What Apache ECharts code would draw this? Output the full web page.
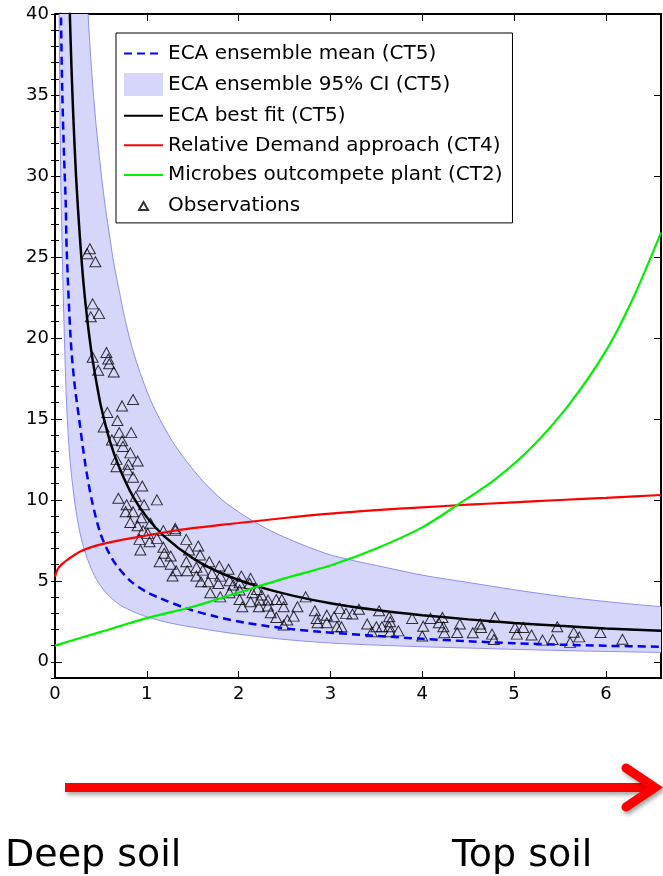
<!DOCTYPE html>
<html><head><meta charset="utf-8">
<script src="https://cdn.jsdelivr.net/npm/echarts@6/dist/echarts.min.js"></script>
<style>html,body{margin:0;padding:0;background:#fff;}#c{width:663px;height:876px;}</style>
</head><body><div id="c"></div>
<script>
// ---- data ----
const xTicks = [0, 1, 2, 3, 4, 5, 6];
const yTicks = [0, 5, 10, 15, 20, 25, 30, 35, 40];

const seriesNames = ['ECA ensemble mean (CT5)', 'ECA ensemble 95% CI (CT5)', 'ECA best fit (CT5)',
  'Relative Demand approach (CT4)', 'Microbes outcompete plant (CT2)', 'Observations'];

const meanCurve = [[0.055,47],[0.065,40],[0.08,35],[0.1,31],[0.117,28.3],[0.127,25.5],[0.17,20],[0.21,17.3],
  [0.265,14.9],[0.33,12.2],[0.4,10],[0.49,8.0],[0.58,6.8],[0.67,5.95],[0.82,5.0],[1.0,4.3],[1.14,3.94],
  [1.43,3.3],[1.76,2.78],[2.09,2.4],[2.45,2.1],[2.89,1.85],[3.5,1.6],[4.0,1.42],[4.5,1.27],[5.0,1.15],
  [5.5,1.06],[6.0,0.99],[6.6,0.93]];

const ciUpper = [[0.3,48],[0.33,43.5],[0.36,40],[0.4,36.4],[0.45,33],[0.5,30.3],[0.55,28],[0.6,26.1],[0.64,24.6],
  [0.7,22.9],[0.76,21.2],[0.84,19.4],[0.93,17.8],[1.03,16.3],[1.14,15.0],[1.28,13.6],[1.43,12.4],[1.62,11.1],
  [1.82,10.0],[2.0,9.25],[2.2,8.55],[2.4,7.95],[2.6,7.45],[2.8,7.0],[3.0,6.6],[3.25,6.25],[3.5,5.95],[4.0,5.35],
  [4.5,4.9],[5.0,4.45],[5.5,4.05],[6.0,3.72],[6.6,3.4]];

const ciLower = [[0.035,50],[0.045,40],[0.06,31],[0.08,25],[0.1,20.5],[0.127,15.8],[0.16,12.7],[0.207,10.2],
  [0.25,8.6],[0.3,7.3],[0.37,6.1],[0.45,5.1],[0.55,4.3],[0.63,3.85],[0.71,3.5],[0.85,3.1],[1.0,2.78],
  [1.25,2.4],[1.58,2.06],[1.9,1.78],[2.3,1.5],[2.6,1.33],[3.0,1.16],[3.5,1.03],[4.0,0.93],[4.5,0.85],
  [5.0,0.77],[5.5,0.7],[6.0,0.64],[6.6,0.58]];

const bestFit = [[0.14,44.9],[0.16,40.3],[0.18,36.6],[0.2,33.6],[0.23,29.9],[0.27,26.3],[0.31,23.4],[0.35,21.2],
  [0.4,19.0],[0.45,17.3],[0.5,15.8],[0.6,13.6],[0.7,12.0],[0.85,10.2],[1.0,8.93],[1.2,7.7],[1.5,6.4],
  [1.8,5.5],[2.2,4.67],[2.6,4.07],[3.0,3.62],[3.5,3.2],[4.0,2.88],[4.5,2.62],[5.0,2.4],[5.5,2.22],
  [6.0,2.06],[6.6,1.91]];

const relDemand = [[0,5.25],[0.02,5.6],[0.04,5.82],[0.08,6.05],[0.13,6.28],[0.2,6.55],[0.27,6.8],[0.38,7.05],
  [0.5,7.25],[0.7,7.5],[0.85,7.65],[1.0,7.8],[1.2,8.0],[1.5,8.25],[1.8,8.45],[2.0,8.57],[2.5,8.88],
  [3.0,9.15],[3.5,9.36],[4.0,9.54],[4.5,9.7],[5.0,9.85],[5.5,9.99],[6.0,10.12],[6.6,10.3]];

const microbes = [[0,1.0],[0.5,1.85],[1.0,2.7],[1.5,3.4],[2.0,4.28],[2.5,5.15],[3.0,5.95],[3.5,7.0],
  [4.0,8.3],[4.4,9.75],[4.8,11.3],[5.2,13.3],[5.6,15.9],[6.0,19.2],[6.3,22.5],[6.6,26.5]];

const observations = [
  [0.35,25.2],[0.38,25.5],[0.44,24.7],[0.41,22.1],[0.39,21.3],[0.48,21.5],[0.41,18.8],[0.56,19.1],
  [0.58,18.7],[0.59,18.4],[0.47,18.0],[0.64,17.9],
  [0.85,16.2],[0.73,15.8],[0.57,15.4],[0.68,14.9],[0.53,14.5],[0.70,14.15],[0.83,14.15],[0.62,13.7],
  [0.73,13.65],[0.74,13.3],[0.82,12.9],[0.67,12.5],[0.90,12.4],[0.80,12.2],[0.67,12.05],[0.79,11.85],
  [0.85,11.4],[0.95,10.85],[0.69,10.1],[0.88,10.2],[1.11,10.0],[0.78,9.7],[0.97,9.7],[0.77,9.27],[0.85,9.27],
  [0.94,8.9],[0.82,8.6],[0.90,8.4],[1.04,8.55],[0.96,8.1],[1.01,7.93],[1.18,8.1],[1.31,8.24],[1.31,8.12],
  [0.92,7.56],[1.03,7.41],[1.11,7.62],[1.43,7.56],[0.93,6.9],[1.18,7.07],[1.19,6.7],[1.46,6.9],[1.56,7.15],
  [1.14,6.18],[1.26,6.53],[1.43,6.18],[1.26,6.03],[1.32,5.62],[1.28,5.3],[1.44,5.62],[1.54,5.83],[1.54,5.3],
  [1.58,6.6],[1.68,6.18],[1.79,5.91],[1.89,5.71],[1.61,5.66],[1.71,5.46],[1.80,5.29],[2.03,5.29],[2.13,5.15],
  [1.59,4.94],[1.67,4.94],[1.78,4.84],[1.90,5.0],[1.94,4.74],[2.01,4.88],[2.12,4.84],[1.69,4.26],[1.80,4.01],
  [1.90,4.26],[2.01,4.43],[2.15,4.26],[2.20,4.47],[2.25,4.12],[2.01,3.85],[2.13,3.71],[2.23,3.81],[2.32,3.81],
  [2.41,3.85],[2.47,3.85],[2.04,3.4],[2.22,3.4],[2.32,3.44],[2.49,3.4],[2.64,3.4],[2.35,3.03],[2.73,4.01],
  [2.41,2.74],[2.60,2.82],[2.53,2.58],[2.49,2.27],[2.83,3.15],[2.85,2.68],[2.86,2.41],[2.96,2.88],[2.96,2.41],
  [3.04,2.78],[3.07,2.16],[3.10,3.30],[3.12,2.16],[3.17,2.99],[3.24,2.95],[3.31,3.24],[3.40,2.33],[3.45,1.85],
  [3.50,2.16],[3.53,3.15],[3.56,2.16],[3.64,2.78],[3.65,2.47],[3.64,2.16],[3.65,1.85],[3.74,1.91],[3.89,2.68],
  [4.00,1.59],[4.01,2.20],[4.09,2.68],[4.18,2.41],[4.22,2.74],[4.23,2.16],[4.24,1.79],[4.38,1.81],[4.41,2.33],
  [4.55,1.79],[4.63,2.33],[4.64,2.12],[4.76,1.71],[4.78,1.38],[4.79,2.74],[5.01,2.12],[5.03,1.71],[5.10,2.12],
  [5.19,1.65],[5.31,1.34],[5.42,1.38],[5.47,2.16],[5.61,1.2],[5.65,1.82],[5.71,1.54],[5.94,1.81],[6.18,1.39]
];

const bottomLabels = ['Deep soil', 'Top soil'];

// ---- chart ----
const FONT = 'DejaVu Sans';
const bandFill = '#d6d6fa';
const bandEdge = '#8f8ff2';
const chart = echarts.init(document.getElementById('c'), null, {renderer: 'canvas', width: 663, height: 876});

const axisBase = {
  type: 'value', splitLine: {show: false},
  axisLine: {show: true, onZero: false, lineStyle: {color: '#000', width: 2}}
};

chart.setOption({
  animation: false,
  backgroundColor: '#fff',
  grid: {left: 55, right: 2, top: 14, bottom: 198, containLabel: false},
  xAxis: [
    Object.assign({}, axisBase, {position: 'bottom', min: 0, max: 6.6,
      axisTick: {show: true, inside: true, length: 7, customValues: xTicks, lineStyle: {color: '#000', width: 1}},
      axisLabel: {show: true, customValues: xTicks, margin: 7, color: '#000', fontFamily: FONT, fontSize: 18}}),
    Object.assign({}, axisBase, {position: 'top', min: 0, max: 6.6,
      axisTick: {show: true, inside: true, length: 7, customValues: xTicks, lineStyle: {color: '#000', width: 1}},
      axisLabel: {show: false}})
  ],
  yAxis: [
    Object.assign({}, axisBase, {position: 'left', min: -1, max: 40,
      axisTick: {show: true, inside: true, length: 7, customValues: yTicks, lineStyle: {color: '#000', width: 1}},
      axisLabel: {show: true, customValues: yTicks, margin: 6, color: '#000', fontFamily: FONT, fontSize: 18}}),
    Object.assign({}, axisBase, {position: 'right', min: -1, max: 40,
      axisTick: {show: true, inside: true, length: 7, customValues: yTicks, lineStyle: {color: '#000', width: 1}},
      axisLabel: {show: false}}),
    {type: 'value', position: 'left', min: -1, max: 40, interval: 1, splitLine: {show: false},
      axisLine: {show: false}, axisLabel: {show: false},
      axisTick: {show: true, inside: true, length: 4, lineStyle: {color: '#000', width: 1}}},
    {type: 'value', position: 'right', min: -1, max: 40, interval: 1, splitLine: {show: false},
      axisLine: {show: false}, axisLabel: {show: false},
      axisTick: {show: true, inside: true, length: 4, lineStyle: {color: '#000', width: 1}}}
  ],
  legend: [
    {
      data: [
        {name: seriesNames[0]},
        {name: seriesNames[1], icon: 'rect', itemStyle: {color: bandFill, borderWidth: 0, opacity: 1}},
        {name: seriesNames[2]}, {name: seriesNames[3]}, {name: seriesNames[4]}
      ],
      orient: 'vertical', left: 116, top: 33, itemWidth: 39, itemHeight: 23, itemGap: 9.6,
      itemStyle: {opacity: 0},
      padding: [10.5, 10, 38, 7], borderColor: '#000', borderWidth: 1, backgroundColor: '#fff',
      selectedMode: false, textStyle: {fontFamily: FONT, fontSize: 20, color: '#000'}
    },
    {
      data: [{name: seriesNames[5]}],
      orient: 'vertical', left: 138, top: 196, itemWidth: 9, itemHeight: 8, padding: 0, z: 6,
      selectedMode: false, textStyle: {fontFamily: FONT, fontSize: 20, color: '#000', padding: [0, 0, 0, 15]}
    }
  ],
  series: [
    {
      name: seriesNames[1], type: 'custom', clip: true, data: [[0, 0]],
      itemStyle: {color: bandFill},
      renderItem: function (params, api) {
        const up = ciUpper.map(p => api.coord(p));
        const lo = ciLower.map(p => api.coord(p));
        return {type: 'group', children: [
          {type: 'polygon', shape: {points: up.concat(lo.slice().reverse())}, style: {fill: bandFill, stroke: null}},
          {type: 'polyline', shape: {points: up, smooth: 0.3}, style: {fill: null, stroke: bandEdge, lineWidth: 1}},
          {type: 'polyline', shape: {points: lo, smooth: 0.3}, style: {fill: null, stroke: bandEdge, lineWidth: 1}}
        ]};
      }
    },
    {name: seriesNames[0], type: 'line', data: meanCurve, symbol: 'none', smooth: 0.3, clip: true,
      lineStyle: {color: '#0000ff', width: 2.5, type: [8, 5]}, itemStyle: {color: '#0000ff'}},
    {name: seriesNames[2], type: 'line', data: bestFit, symbol: 'none', smooth: 0.3, clip: true,
      lineStyle: {color: '#000', width: 2.5}, itemStyle: {color: '#000'}},
    {name: seriesNames[3], type: 'line', data: relDemand, symbol: 'none', smooth: 0.3, clip: true,
      lineStyle: {color: '#ff0000', width: 2.2}, itemStyle: {color: '#ff0000'}},
    {name: seriesNames[4], type: 'line', data: microbes, symbol: 'none', smooth: 0.3, clip: true,
      lineStyle: {color: '#00f000', width: 2.2}, itemStyle: {color: '#00f000'}},
    {name: seriesNames[5], type: 'scatter', data: observations, symbol: 'triangle', symbolSize: [11, 10],
      itemStyle: {color: 'rgba(0,0,0,0)', borderColor: '#000', borderWidth: 1}}
  ],
  graphic: [
    {type: 'line', shape: {x1: 65, y1: 787.5, x2: 650, y2: 787.5}, z: 10,
      style: {stroke: '#ff0000', lineWidth: 9, lineCap: 'butt', shadowBlur: 4, shadowOffsetX: 2, shadowOffsetY: 3, shadowColor: 'rgba(0,0,0,0.35)'}},
    {type: 'polyline', shape: {points: [[626, 768], [655, 787.5], [626, 807]]}, z: 10,
      style: {stroke: '#ff0000', fill: null, lineWidth: 9, lineCap: 'round', lineJoin: 'miter', shadowBlur: 4, shadowOffsetX: 2, shadowOffsetY: 3, shadowColor: 'rgba(0,0,0,0.35)'}},
    {type: 'text', left: 5, top: 837, z: 10, style: {text: bottomLabels[0], font: '38px "DejaVu Sans"', fill: '#000'}},
    {type: 'text', left: 452, top: 837, z: 10, style: {text: bottomLabels[1], font: '38px "DejaVu Sans"', fill: '#000'}}
  ]
});
</script>
</body></html>
